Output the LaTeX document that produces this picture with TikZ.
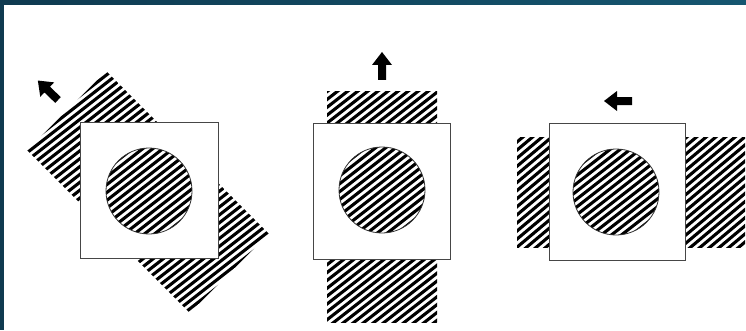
\documentclass[tikz,border=0pt]{standalone}
\definecolor{tealA}{RGB}{15,58,80}
\definecolor{tealB}{RGB}{21,86,112}
\definecolor{sqline}{RGB}{70,70,70}
\tikzset{
  grating/.style={line width=3.1pt, black},
  squarebox/.style={fill=white, draw=sqline, line width=1pt},
  ringline/.style={draw=black!80, line width=0.8pt},
  arrowfill/.style={fill=black},
}
\newcommand{\gratingfill}[3]{%
  \begin{scope}[shift={(#1,#2)}, rotate=#3]
    \foreach \k in {-26,...,26} { \draw[grating] (-200,\k*6.2) -- (200,\k*6.2); }
  \end{scope}}
\newcommand{\thickarrow}[3]{%
  \begin{scope}[shift={(#1,#2)}, rotate=#3]
    \fill[arrowfill] (0,-4) -- (15,-4) -- (15,-10) -- (28,0) -- (15,10) -- (15,4) -- (0,4) -- cycle;
  \end{scope}}
\begin{document}
\begin{tikzpicture}[x=1pt,y=1pt]
\useasboundingbox (0,0) rectangle (746,330);
\fill[white] (0,0) rectangle (746,330);
\shade[left color=tealA, right color=tealB] (0,325) rectangle (746,330);
\fill[tealA] (0,0) rectangle (4,330);

% ---- panel 1: oblique grating ----
\begin{scope}[shift={(148,138)}, rotate=-45]
  \clip (-115,-56) rectangle (115,56);
  \gratingfill{0}{0}{83}
\end{scope}
\draw[squarebox] (80,72) rectangle (218,208);
\begin{scope}
  \clip (149,139) circle (43);
  \gratingfill{149}{139}{38}
\end{scope}
\draw[ringline] (149,139) circle (43);
\thickarrow{58}{230}{136}

% ---- panel 2: vertical grating ----
\begin{scope}
  \clip (327,8) rectangle (437,239);
  \gratingfill{382}{124}{38}
\end{scope}
\draw[squarebox] (313,71) rectangle (450,207);
\begin{scope}
  \clip (382,140) circle (43);
  \gratingfill{382}{140}{38}
\end{scope}
\draw[ringline] (382,140) circle (43);
\thickarrow{382}{250}{90}

% ---- panel 3: horizontal grating ----
\begin{scope}
  \clip (517,83) rectangle (745,193);
  \gratingfill{631}{138}{40}
\end{scope}
\draw[squarebox] (549,70) rectangle (685,207);
\begin{scope}
  \clip (616,138) circle (43);
  \gratingfill{616}{138}{38}
\end{scope}
\draw[ringline] (616,138) circle (43);
\thickarrow{632}{229}{180}
\end{tikzpicture}
\end{document}
